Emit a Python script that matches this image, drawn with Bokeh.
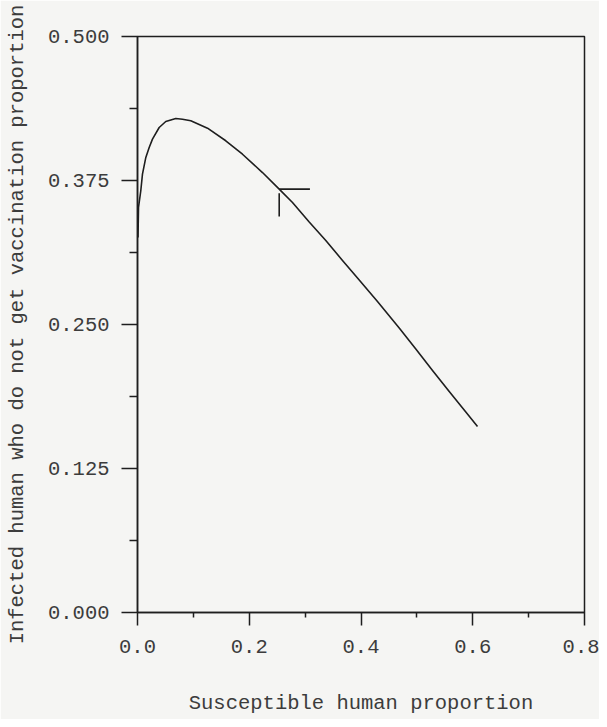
from bokeh.plotting import figure
from bokeh.models import Range1d, FixedTicker, PrintfTickFormatter, ColumnDataSource
from bokeh.embed import file_html
from bokeh.resources import INLINE

# ---- data ----
susceptible = [0.0009, 0.0018, 0.0059, 0.0089, 0.0149, 0.0209, 0.0268, 0.0388,
               0.0506, 0.0685, 0.0805, 0.0954, 0.1253, 0.1580, 0.1879, 0.2237,
               0.2536, 0.2774, 0.3073, 0.3370, 0.3669, 0.3968, 0.4295, 0.4684,
               0.4981, 0.5280, 0.5579, 0.5876, 0.6085]
infected = [0.3255, 0.3516, 0.3661, 0.3805, 0.3950, 0.4036, 0.4109, 0.4210,
            0.4262, 0.4288, 0.4282, 0.4268, 0.4204, 0.4095, 0.3978, 0.3819,
            0.3675, 0.3559, 0.3389, 0.3229, 0.3056, 0.2886, 0.2700, 0.2470,
            0.2287, 0.2101, 0.1918, 0.1740, 0.1615]

# equilibrium mark
eq_x = [0.2536]
eq_y = [0.3675]

x_ticks = [0.0, 0.2, 0.4, 0.6, 0.8]
x_minor = [0.1, 0.3, 0.5, 0.7]
y_ticks = [0.0, 0.125, 0.25, 0.375, 0.5]
y_minor = [0.0625, 0.1875, 0.3125, 0.4375]

FONT = "Liberation Mono"
TXT = "#3c3c3c"
INK = "#1e1e1e"
BG = "#f5f5f3"

p = figure(width=599, height=719, output_backend="svg", toolbar_location=None,
           x_range=Range1d(0, 0.8), y_range=Range1d(0, 0.5),
           min_border_left=137, min_border_right=15, min_border_top=36,
           min_border_bottom=107)
p.background_fill_color = BG
p.border_fill_color = BG
p.outline_line_color = INK
p.outline_line_width = 1.5
p.xgrid.visible = False
p.ygrid.visible = False

# x axis
xa = p.xaxis[0]
xa.ticker = FixedTicker(ticks=x_ticks, minor_ticks=x_minor)
xa.formatter = PrintfTickFormatter(format="%.1f")
xa.axis_label = "Susceptible human proportion"
xa.major_tick_out = 13
xa.major_tick_in = 0
xa.minor_tick_out = 5
xa.minor_tick_in = 0
xa.major_label_standoff = 14
xa.axis_label_standoff = 36

# y axis
ya = p.yaxis[0]
ya.ticker = FixedTicker(ticks=y_ticks, minor_ticks=y_minor)
ya.formatter = PrintfTickFormatter(format="%.3f")
ya.axis_label = "Infected human who do not get vaccination proportion"
ya.major_tick_out = 16
ya.major_tick_in = 0
ya.minor_tick_out = 8
ya.minor_tick_in = 0
ya.major_label_standoff = 12
ya.axis_label_standoff = 16

for ax in (xa, ya):
    ax.axis_line_color = INK
    ax.axis_line_width = 1.5
    ax.major_tick_line_color = INK
    ax.major_tick_line_width = 1.5
    ax.minor_tick_line_color = INK
    ax.minor_tick_line_width = 1.5
    ax.major_label_text_font = FONT
    ax.major_label_text_font_size = "20.5px"
    ax.major_label_text_color = TXT
    ax.axis_label_text_font = FONT
    ax.axis_label_text_font_size = "20.5px"
    ax.axis_label_text_font_style = "normal"
    ax.axis_label_text_color = TXT

src = ColumnDataSource(dict(x=susceptible, y=infected))
p.line("x", "y", source=src, line_color=INK, line_width=1.6, line_join="round")

# equilibrium marker: short horizontal arm to the right, vertical arm below
arm_h = 0.055
gap_v, arm_v = 0.0035, 0.0237
p.segment(x0=eq_x, y0=eq_y, x1=[v + arm_h for v in eq_x], y1=eq_y,
          line_color=INK, line_width=1.6)
p.segment(x0=eq_x, y0=[v - gap_v for v in eq_y], x1=eq_x,
          y1=[v - arm_v for v in eq_y], line_color=INK, line_width=1.6)

open("out.html", "w").write(file_html(p, INLINE))
